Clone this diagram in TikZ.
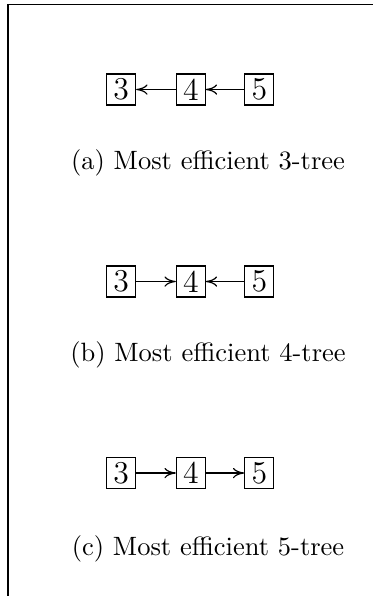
\documentclass[tikz,border=0pt]{standalone}
\usetikzlibrary{arrows.meta}
\begin{document}
\begin{tikzpicture}[x=0.3774pt,y=-0.3774pt,
  box/.style={draw,line width=0.4pt,inner sep=0pt,minimum width=10.9pt,minimum height=11.7pt,font=\large},
  conn/.style={-{To[length=4.3pt,width=3.9pt]},line width=0.45pt},
  captext/.style={anchor=base,inner sep=0pt}]
\useasboundingbox (0,0) rectangle (373,596);
\draw[line width=0.45pt] (373,4.7) -- (8,4.7) coordinate (tl) -- (8,596) coordinate (bl);
% (a)
\node[box] (a3) at (121.2,89.5) {3};
\node[box] (a4) at (190.8,89.5) {4};
\node[box] (a5) at (259.3,89.5) {5};
\draw[conn] (a4) -- (a3);
\draw[conn] (a5) -- (a4);
\node[captext] (ca) at (208,169.4) {(a) Most efficient 3-tree};
% (b)
\node[box] (b3) at (121.2,281.5) {3};
\node[box] (b4) at (190.8,281.5) {4};
\node[box] (b5) at (259.3,281.5) {5};
\draw[conn] (b3) -- (b4);
\draw[conn] (b5) -- (b4);
\node[captext] (cb) at (208,361.8) {(b) Most efficient 4-tree};
% (c)
\node[box] (c3) at (121.2,473) {3};
\node[box] (c4) at (190.8,473) {4};
\node[box] (c5) at (259.3,473) {5};
\draw[conn] (c3) -- (c4);
\draw[conn] (c4) -- (c5);
\node[captext] (cc) at (208,555.4) {(c) Most efficient 5-tree};
\end{tikzpicture}
\end{document}
